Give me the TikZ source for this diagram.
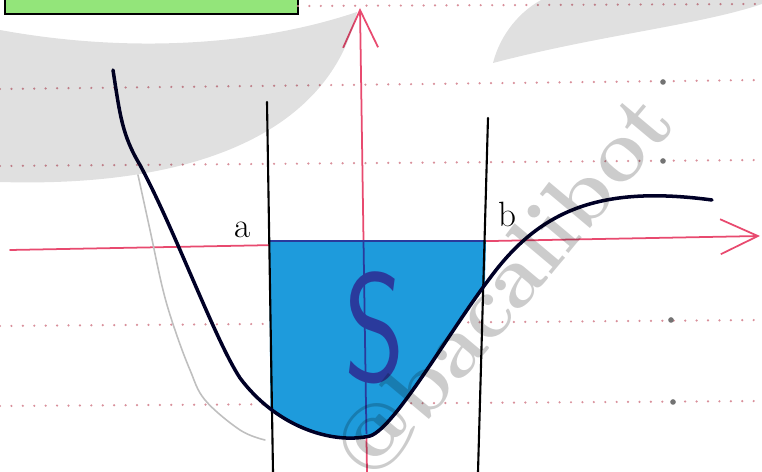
\documentclass[tikz,border=0pt]{standalone}
\usepackage{tikz}
\usetikzlibrary{arrows.meta,positioning}
\definecolor{axered}{HTML}{E84A6F}
\definecolor{carnet}{HTML}{D88F9A}
\definecolor{bleuS}{HTML}{1E9BDC}
\definecolor{encreS}{HTML}{2A3A9C}
\definecolor{vertcadre}{HTML}{93E57A}

\begin{document}
\begin{tikzpicture}[x=0.02cm, y=-0.02cm, line cap=round,
  axe/.style={axered, line width=1pt, -{Straight Barb[length=0.75cm,width=0.7cm]}},
  ligne/.style={carnet, line width=1.4pt, dash pattern=on 0pt off 6.5pt},
  borne/.style={black, line width=1.2pt},
  courbe/.style={black!85!blue, line width=2pt},
  lettre/.style={font=\fontsize{20}{20}\selectfont}]
  \useasboundingbox (0,0) rectangle (762,472);
  \clip (0,0) rectangle (762,472);
  % cadre vert en haut
  \draw[fill=vertcadre, line width=1.6pt] (5,-20) rectangle (298,14);
  % lignes du cahier
  \draw[ligne] (298,6) -- (762,4);
  \draw[ligne] (0,89) -- (762,80);
  \draw[ligne] (0,166) -- (762,160);
  \draw[ligne] (0,326) -- (762,320);
  \draw[ligne] (0,406) -- (762,401);
  \foreach \px/\py in {663/82,663/161,671/320,673/402} { \fill[black!55] (\px,\py) circle (1.6pt); }
  % axes
  \coordinate (xg) at (10,250); \coordinate (xd) at (760,236);
  \coordinate (yb) at (367,472); \coordinate (yh) at (360,8);
  \draw[axe] (xg) -- (xd);
  \draw[axe] (yb) -- (yh);
  % trace au crayon
  \draw[black!25, line width=0.9pt] plot[smooth, tension=0.6] coordinates {(138,175) (150,230) (163,290) (175,330) (190,370) (205,400) (240,430) (265,440)};
  % domaine S
  \begin{scope}
    \clip (269,241) -- (486,241) -- (480,472) -- (271,472) -- cycle;
    \fill[bleuS] (113,70) .. controls (120,115) and (122,135) .. (140,165)
      .. controls (175,230) and (215,340) .. (240,378)
      .. controls (275,425) and (330,445) .. (370,436)
      .. controls (395,428) and (450,330) .. (490,278)
      .. controls (540,210) and (600,185) .. (712,200) -- cycle;
    \clip (0,241) rectangle (762,434);
    \draw[encreS, line width=1pt] (yb) -- (yh);
  \end{scope}
  \draw[encreS, line width=0.8pt] (270,241) -- (485,241);
  % bornes a et b
  \coordinate (ah) at (267,102); \coordinate (ab) at (273,472);
  \coordinate (bh) at (488,118); \coordinate (bb) at (478,472);
  \draw[borne] (ah) -- (ab);
  \draw[borne] (bh) -- (bb);
  % courbe
  \draw[courbe] (113,70) .. controls (120,115) and (122,135) .. (140,165)
    .. controls (175,230) and (215,340) .. (240,378)
    .. controls (275,425) and (330,445) .. (370,436)
    .. controls (395,428) and (450,330) .. (490,278)
    .. controls (540,210) and (600,185) .. (712,200);
  \node[lettre] (alab) at (243,230) {a};
  \node[lettre] (blab) at (507,214) {b};
  \node[encreS, font=\fontsize{88}{88}\selectfont\sffamily, xscale=0.75] (Slab) at (375,328) {S};
  % filigrane
  \fill[black, fill opacity=0.12] (0,30) .. controls (120,52) and (250,48) .. (357,12) .. controls (330,130) and (200,188) .. (0,182) -- cycle;
  \fill[black, fill opacity=0.12] (493,63) .. controls (500,35) and (520,10) .. (545,-2) -- (762,-2) -- (762,4) .. controls (700,25) and (600,35) .. (493,63) -- cycle;
  \node[rotate=50, text=black, text opacity=0.2, font=\fontsize{50}{50}\selectfont\bfseries] (marque) at (503,285) {@bacalibot};
\end{tikzpicture}
\end{document}
